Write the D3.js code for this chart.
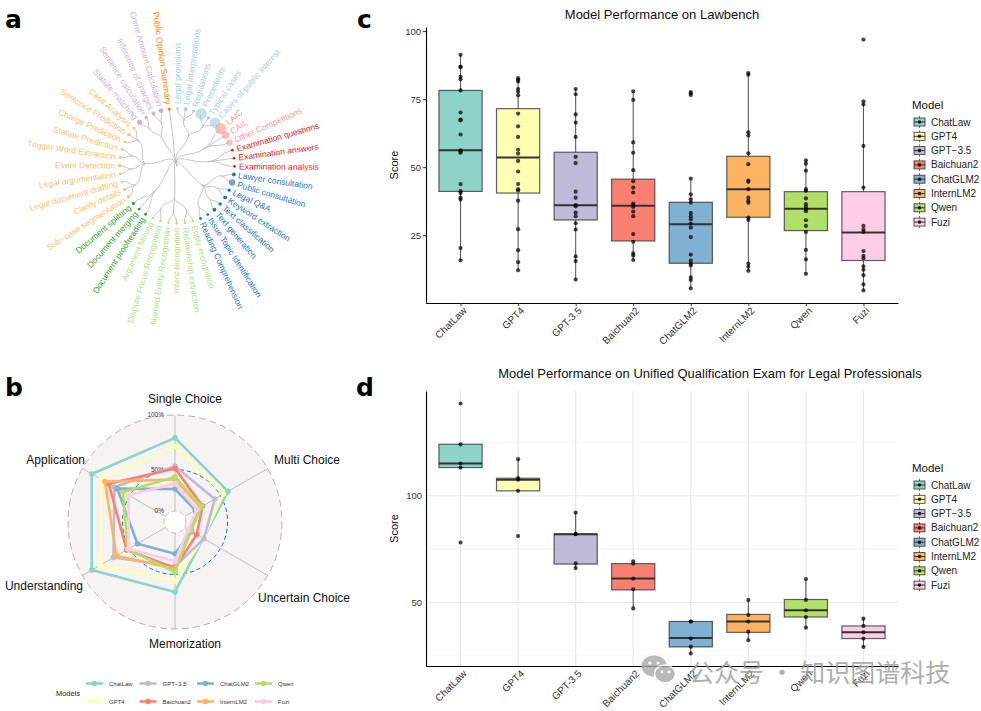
<!DOCTYPE html>
<html><head><meta charset="utf-8">
<script src="https://cdn.jsdelivr.net/npm/d3@7"></script>
<style>
body{margin:0;background:#fff}
text{font-family:"Liberation Sans",Arial,Helvetica,sans-serif}
</style>
</head><body>
<svg id="fig" width="981" height="711" xmlns="http://www.w3.org/2000/svg"></svg>
<script>
// ---------------- DATA ----------------
const models = ["ChatLaw","GPT4","GPT-3.5","Baichuan2","ChatGLM2","InternLM2","Qwen","Fuzi"];
const legendNames = ["ChatLaw","GPT4","GPT\u22123.5","Baichuan2","ChatGLM2","InternLM2","Qwen","Fuzi"];
const modelColors = ["#8DD3C7","#FFFFB3","#BEBADA","#FB8072","#80B1D3","#FDB462","#B3DE69","#FCCDE5"];

// Panel a: task taxonomy (clockwise order)
const groupColors = ["#B2DF8A","#33A02C","#FDBF6F","#CAB2D6","#FF7F00","#A6CEE3","#FB9A99","#E31A1C","#1F78B4"];
const groupLeaves = [
  [["Entity recognition","Relationship extraction"],["Intent recognition","Named Entity Recognition"],["Dispute Focus Recognition","Argument Mining"]],
  ["Document proofreading","Document merging","Document splitting"],
  [["Sub\u2212case segmentation","Clarify details","Legal document drafting"],["Legal argumentation","Event Detection"],["Trigger Word Extraction","Statute Prediction"],["Charge Prediction","Sentence Prediction","Case Analysis"]],
  [["Statute matching","Sentence calculation"],["Inference of charges","Crime Amount Calculation"]],
  ["Public Opinion Summary"],
  [["Legal provisions","Legal interpretations","Regulations"],["Precedents","Typical cases","Cases of public interest"]],
  ["LAIC","CAIL","Other Competitions"],
  ["Examination questions","Examination answers","Examination analysis"],
  [["Lawyer consultation","Public consultation"],["Legal Q&A","Keyword extraction"],["Text classification","Text generation"],["Issue Topic Identification","Reading Comprehension"]]
];
const leafValues = [0.8,0.8,0.8,0.8,0.8,0.8, 1.2,1.0,1.4, 1.5,1.2,0.7,0.9,1.4,1.0,1.0,1.0,1.4,1.0,
  3.5,1.6,2.2,3.0, 1.4, 1.0,2.0,1.2,18,1.6,15, 17,7.5,5.5, 1.0,1.0,1.0, 2.0,5.5,1.4,2.0,1.6,2.0,1.0,1.2];

// Panel b: radar
const radarAxes = ["Single Choice","Multi Choice","Uncertain Choice","Memorization","Understanding","Application"];
const radarValues = [
  [0.79,0.58,0.26,0.66,0.90,0.90],
  [0.71,0.53,0.26,0.56,0.81,0.80],
  [0.53,0.42,0.27,0.40,0.67,0.66],
  [0.51,0.25,0.17,0.42,0.53,0.72],
  [0.265,0.15,0.10,0.25,0.39,0.63],
  [0.38,0.22,0.09,0.43,0.64,0.76],
  [0.41,0.24,0.08,0.47,0.52,0.57],
  [0.33,0.17,0.05,0.34,0.51,0.51]
];
const radarGridLabels = ["0%","50%","100%"];
const radarGridValues = [0,0.5,1];

// Panel c: Lawbench
const lawQ1 = [41.1,40.5,30.6,22.9,14.7,31.6,26.7,15.7];
const lawMedian = [56.2,53.6,36.0,35.8,29.0,41.9,34.7,26.0];
const lawQ3 = [78.2,71.5,55.5,45.6,37.1,54.0,41.0,41.0];
const lawLow = [15.8,12.1,8.7,15.9,5.5,11.9,10.8,4.7];
const lawHigh = [91.3,82.7,78.7,77.9,45.8,84.6,52.5,73.8];
const lawPoints = [
  [91.3,87,86.7,83.2,82.3,78.2,70.1,67.5,67.2,62,56.2,55.8,55.3,43.8,41.2,40.5,38.8,38.1,20.3,15.8],
  [82.7,82.1,81.5,78.7,77.7,76.4,69.7,65,61.1,56.4,55,52.3,48.4,43.8,41.9,41.4,37.7,27.2,19.5,15.1,12.1],
  [78.7,76.8,69.4,66.4,61.1,53.8,51.5,41,38.8,36.1,35.6,33.3,32,29.4,27.1,17.2,15.5,8.7],
  [77.9,74.7,59.1,55.3,48.9,44.8,42.5,40.7,36.6,36,35.4,33.7,32,25.4,22.6,18.3,17.5,15.9],
  [77.6,77.1,76.5,45.8,40,38.2,37,33.2,32,30.9,29.3,27.8,24.3,17.9,15.7,14.6,13.9,9.5,8.5,5.5],
  [84.6,84,62.8,61.6,55.1,51.1,45.1,44.6,41.9,38.8,37.6,36.9,31.5,30.6,14.6,13.4,11.9],
  [52.5,51.3,48.7,41.9,41.3,38.5,36.4,35.4,34.5,33.8,30.5,28.4,26.2,19.6,16.1,10.8],
  [96.9,74.2,73.1,57.8,42.5,28.4,27.1,26.2,19.2,17.4,16.5,13.6,12.3,10.3,6.9,4.7]
];
const lawTicks = [25,50,75,100];

// Panel d: Unified Qualification Exam
const examQ1 = [113.2,102.3,68.0,55.9,29.2,36.0,43.2,33.1];
const examMedian = [115.1,107.5,82.0,61.2,33.4,41.1,46.3,36.0];
const examQ3 = [124.1,108.2,82.0,68.2,41.1,44.4,51.4,39.0];
const examLow = [113.2,102.3,66.1,47.2,26.1,32.3,38.2,29.2];
const examHigh = [124.1,117.1,92.1,69.3,41.1,51.2,61.0,42.4];
const examPoints = [
  [143.2,124.1,115.1,113.2,78.1],
  [117.1,108.2,107.5,102.3,81.1],
  [92.1,82.1,82.0,68.3,66.1],
  [69.3,68.2,61.2,56.2,47.2],
  [41.1,41.1,33.1,29.3,26.1],
  [51.2,44.1,41.1,36.3,32.3],
  [61.0,51.2,46.3,43.2,38.2],
  [42.4,39.0,36.0,33.1,29.2]
];
const examTicks = [50,100];
const examMinorTicks = [25,75,125];

// ---------------- DRAW ----------------
const svg = d3.select("#fig");

function panelLetter(t, x, y){
  svg.append("text").attr("x",x).attr("y",y).text(t)
    .style("font-family","'DejaVu Sans',sans-serif").style("font-weight","bold")
    .style("font-size","25px").attr("fill","#000");
}

// ---- Panel a: radial dendrogram ----
(function(){
  const cx = 177, cy = 166, leafR = 56.5, labelR = 62;
  function build(item, gi){
    if (Array.isArray(item)) return {children: item.map(c=>build(c, gi)), group: gi};
    return {name: item, group: gi};
  }
  const rootData = {children: groupLeaves.map((g,gi)=>({group:gi, children: g.map(c=>build(c,gi))}))};
  const root = d3.hierarchy(rootData);
  d3.cluster().size([2*Math.PI, leafR]).separation(()=>1)(root);
  const rot = 164*Math.PI/180 - Math.PI/44;
  root.each(d=>{
    d.a = d.x + rot;
    if (d.children) d.r = d.depth===0 ? 0 : (d.depth===1 ? 31 : 45);
    else d.r = leafR;
  });
  const leaves = root.leaves();
  leaves.forEach((d,i)=>{ d.value0 = leafValues[i]; });
  const g = svg.append("g").attr("transform",`translate(${cx},${cy})`);
  const link = d3.linkRadial().angle(d=>d.a).radius(d=>d.r);
  g.selectAll("path.lk").data(root.links()).join("path")
    .attr("d", link).attr("fill","none").attr("stroke","#BDBDBD").attr("stroke-width",0.9);
  const rScale = d3.scaleSqrt().domain([0,18]).range([0,5.8]);
  const pos = (a,r)=>[r*Math.cos(a-Math.PI/2), r*Math.sin(a-Math.PI/2)];
  g.selectAll("circle.lf").data(leaves).join("circle")
    .attr("cx",d=>pos(d.a,leafR+1)[0]).attr("cy",d=>pos(d.a,leafR+1)[1])
    .attr("r",d=>rScale(d.value0))
    .attr("fill",d=>groupColors[d.data.group])
    .attr("fill-opacity",d=>d.value0>4?0.65:1);
  g.selectAll("text.lb").data(leaves).join("text")
    .attr("transform",d=>{
      const th = (d.a - Math.PI/2)*180/Math.PI;
      const p = pos(d.a, labelR + Math.max(0, rScale(d.value0)-2));
      const left = Math.cos(d.a-Math.PI/2) < 0;
      return `translate(${p[0]},${p[1]}) rotate(${left?th+180:th})`;
    })
    .attr("text-anchor",d=>Math.cos(d.a-Math.PI/2)<0?"end":"start")
    .attr("dy","0.35em")
    .style("font-size","8.5px")
    .attr("fill",d=>groupColors[d.data.group])
    .text(d=>d.data.name);
})();
panelLetter("a", 5, 28);

// ---- Panel b: radar ----
(function(){
  const cx = 175, cy = 522, R = 107;
  const rs = d3.scaleLinear().domain([0,0.5,1]).range([11,52.5,R]);
  const n = radarAxes.length;
  const ang = i => -Math.PI/2 + i*2*Math.PI/n;
  const g = svg.append("g").attr("transform",`translate(${cx},${cy})`);
  g.append("circle").attr("r",R).attr("fill","#F5F4F2").attr("stroke","#A8A8A8")
    .attr("stroke-width",0.9).attr("stroke-dasharray","7,4");
  radarAxes.forEach((a,i)=>{
    g.append("line").attr("x1",rs(0)*Math.cos(ang(i))).attr("y1",rs(0)*Math.sin(ang(i)))
      .attr("x2",R*Math.cos(ang(i))).attr("y2",R*Math.sin(ang(i)))
      .attr("stroke","#BDBDBD").attr("stroke-width",1);
  });
  g.append("circle").attr("r",rs(0)).attr("fill","#fff").attr("stroke","#B0B0B0")
    .attr("stroke-width",0.8).attr("stroke-dasharray","5,3");
  g.append("circle").attr("r",rs(0.5)).attr("fill","none").attr("stroke","#007A87")
    .attr("stroke-width",1).attr("stroke-dasharray","4,3");
  radarGridValues.forEach((v,i)=>{
    g.append("text").attr("x",-11).attr("y",-rs(v)).attr("dy","0.35em")
      .attr("text-anchor","end").style("font-size","6.5px").attr("fill","#333")
      .text(radarGridLabels[i]);
  });
  const line = d3.lineRadial().angle((d,i)=>ang(i)+Math.PI/2).radius(d=>rs(d)).curve(d3.curveLinearClosed);
  radarValues.forEach((vals,m)=>{
    g.append("path").attr("d",line(vals)).attr("fill","none")
      .attr("stroke",modelColors[m]).attr("stroke-width",2.6).attr("stroke-linejoin","round");
    vals.forEach((v,i)=>{
      g.append("circle").attr("cx",rs(v)*Math.cos(ang(i))).attr("cy",rs(v)*Math.sin(ang(i)))
        .attr("r",2.8).attr("fill",modelColors[m]);
    });
  });
  // axis labels (layout offsets)
  const lab = [[10,-R-12,"middle"],[99,-58,"start"],[83,80,"start"],[10,R+19,"middle"],[-92,68,"end"],[-90,-58,"end"]];
  radarAxes.forEach((a,i)=>{
    g.append("text").attr("x",lab[i][0]).attr("y",lab[i][1]).attr("text-anchor",lab[i][2])
      .style("font-size","12px").attr("fill","#111").text(a);
  });
  // legend
  const lg = svg.append("g");
  lg.append("text").attr("x",56).attr("y",695.5).style("font-size","7.4px").attr("fill","#222").text("Models");
  const colX = [86,139.5,197,255], rowY = [683.5,701.5];
  models.forEach((m,i)=>{
    const cxk = colX[Math.floor(i/2)], cyk = rowY[i%2];
    lg.append("line").attr("x1",cxk).attr("x2",cxk+17).attr("y1",cyk).attr("y2",cyk)
      .attr("stroke",modelColors[i]).attr("stroke-width",2.6);
    lg.append("circle").attr("cx",cxk+8.5).attr("cy",cyk).attr("r",2.8).attr("fill",modelColors[i]);
    lg.append("text").attr("x",cxk+23).attr("y",cyk).attr("dy","0.35em")
      .style("font-size","6px").attr("fill","#333").text(legendNames[i]);
  });
})();
panelLetter("b", 5, 396);

// ---- Box plot panels ----
function boxPanel(o){
  const g = svg.append("g");
  const allVals = o.pts.flat().concat(o.lo, o.hi);
  const ext = d3.extent(allVals), pad = (ext[1]-ext[0])*0.05;
  const y = d3.scaleLinear().domain([ext[0]-pad, ext[1]+pad]).range([o.y1, o.y0]);
  const x = d3.scalePoint().domain(models).range([o.x0, o.x1]).padding(0.6);
  const bw = x.step()*0.75;
  if (o.grid){
    o.minor.forEach(v=>{ if (v>y.domain()[0] && v<y.domain()[1])
      g.append("line").attr("x1",o.x0).attr("x2",o.x1).attr("y1",y(v)).attr("y2",y(v))
        .attr("stroke","#EFEFEF").attr("stroke-width",0.7); });
    o.ticks.forEach(v=>g.append("line").attr("x1",o.x0).attr("x2",o.x1).attr("y1",y(v)).attr("y2",y(v))
        .attr("stroke","#E8E8E8").attr("stroke-width",1.2));
    models.forEach(m=>g.append("line").attr("x1",x(m)).attr("x2",x(m)).attr("y1",o.y0).attr("y2",o.y1)
        .attr("stroke","#E8E8E8").attr("stroke-width",1.2));
  }
  models.forEach((m,i)=>{
    const cx = x(m);
    g.append("line").attr("x1",cx).attr("x2",cx).attr("y1",y(o.hi[i])).attr("y2",y(o.q3[i]))
      .attr("stroke","#333").attr("stroke-opacity",0.8).attr("stroke-width",1.1);
    g.append("line").attr("x1",cx).attr("x2",cx).attr("y1",y(o.q1[i])).attr("y2",y(o.lo[i]))
      .attr("stroke","#333").attr("stroke-opacity",0.8).attr("stroke-width",1.1);
    g.append("rect").attr("x",cx-bw/2).attr("width",bw).attr("y",y(o.q3[i]))
      .attr("height",Math.max(0.5,y(o.q1[i])-y(o.q3[i])))
      .attr("fill",modelColors[i]).attr("stroke","#3a3a3a").attr("stroke-opacity",0.8).attr("stroke-width",1.2);
    g.append("line").attr("x1",cx-bw/2).attr("x2",cx+bw/2).attr("y1",y(o.med[i])).attr("y2",y(o.med[i]))
      .attr("stroke","#333").attr("stroke-width",2);
    o.pts[i].forEach(v=>g.append("circle").attr("cx",cx).attr("cy",y(v)).attr("r",2.1)
      .attr("fill","#000").attr("fill-opacity",0.72));
  });
  const ya = g.append("g").attr("transform",`translate(${o.x0},0)`)
    .call(d3.axisLeft(y).tickValues(o.ticks).tickSize(o.tickLen).tickSizeOuter(0).tickPadding(o.grid?4:2));
  const xa = g.append("g").attr("transform",`translate(0,${o.y1})`)
    .call(d3.axisBottom(x).tickSize(o.tickLen).tickSizeOuter(0));
  [ya,xa].forEach(a=>{
    a.select(".domain").attr("stroke","#000").attr("stroke-width",1.1);
    a.selectAll(".tick line").attr("stroke","#333");
  });
  ya.selectAll(".tick text").style("font-size","9.5px").attr("fill","#333");
  xa.selectAll(".tick text").style("font-size","10px").attr("fill","#333")
    .attr("text-anchor","end").attr("transform","translate(2,4) rotate(-45)").attr("dy","0.6em").attr("y",0).attr("x",0);
  g.append("text").attr("transform",`translate(398,${(o.y0+o.y1)/2}) rotate(-90)`)
    .attr("text-anchor","middle").style("font-size","11px").attr("fill","#111").text("Score");
  g.append("text").attr("x",o.titleX).attr("y",o.titleY).attr("text-anchor","middle")
    .style("font-size","13px").attr("fill","#111").text(o.title);
  // legend
  const lg = g.append("g");
  lg.append("text").attr("x",912).attr("y",o.legY).style("font-size","11.5px").attr("fill","#111").text("Model");
  models.forEach((m,i)=>{
    const ky = o.legY + 13 + i*14.3, kx = 919.5;
    lg.append("line").attr("x1",kx).attr("x2",kx).attr("y1",ky-6).attr("y2",ky+6).attr("stroke","#444").attr("stroke-width",0.8);
    lg.append("rect").attr("x",kx-5.5).attr("y",ky-4).attr("width",11).attr("height",8)
      .attr("fill",modelColors[i]).attr("stroke","#444").attr("stroke-width",0.9);
    lg.append("line").attr("x1",kx-5.5).attr("x2",kx+5.5).attr("y1",ky).attr("y2",ky).attr("stroke","#333").attr("stroke-width",1);
    lg.append("circle").attr("cx",kx).attr("cy",ky).attr("r",1.8).attr("fill","#000").attr("fill-opacity",0.8);
    lg.append("text").attr("x",931).attr("y",ky).attr("dy","0.35em").style("font-size","10px").attr("fill","#222").text(legendNames[i]);
  });
}

boxPanel({title:"Model Performance on Lawbench", titleX:662, titleY:19,
  q1:lawQ1, med:lawMedian, q3:lawQ3, lo:lawLow, hi:lawHigh, pts:lawPoints,
  x0:426, x1:898, y0:27, y1:303, ticks:lawTicks, tickLen:3, grid:false, legY:109});
panelLetter("c", 357, 28);

boxPanel({title:"Model Performance on Unified Qualification Exam for Legal Professionals", titleX:710, titleY:378,
  q1:examQ1, med:examMedian, q3:examQ3, lo:examLow, hi:examHigh, pts:examPoints,
  x0:426, x1:898, y0:391, y1:666, ticks:examTicks, minor:examMinorTicks, tickLen:0, grid:true, legY:472});
panelLetter("d", 356, 396);

// ---- watermark ----
(function(){
  const w = svg.append("g").attr("opacity",0.8);
  w.append("ellipse").attr("cx",654).attr("cy",666).attr("rx",12.5).attr("ry",10.5).attr("fill","#a8a8a8");
  w.append("ellipse").attr("cx",665).attr("cy",674).attr("rx",10.5).attr("ry",9).attr("fill","#a8a8a8").attr("stroke","#fff").attr("stroke-width",1.5);
  [[650,663],[658,663]].forEach(p=>w.append("circle").attr("cx",p[0]).attr("cy",p[1]).attr("r",1.6).attr("fill","#fff"));
  [[662,672],[669,672]].forEach(p=>w.append("circle").attr("cx",p[0]).attr("cy",p[1]).attr("r",1.4).attr("fill","#fff"));
  w.append("text").attr("x",689).attr("y",682).style("font-family","'Noto Sans CJK SC',sans-serif")
    .style("font-size","25px").attr("fill","#9a9a9a").text("公众号 · 知识图谱科技");
})();
</script>
</body></html>
